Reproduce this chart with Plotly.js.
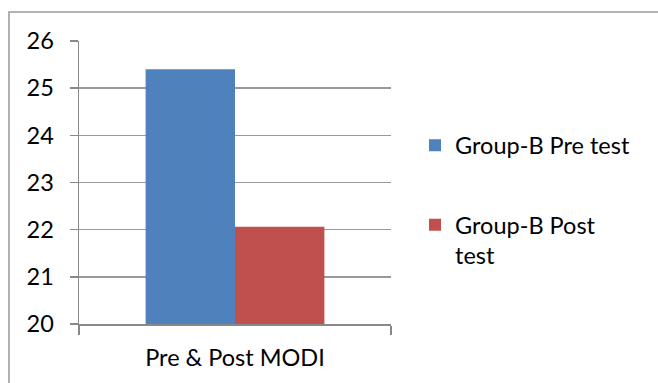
<!DOCTYPE html>
<html>
<head>
<meta charset="utf-8">
<script src="https://cdn.plot.ly/plotly-3.0.1.min.js"></script>
<style>
html,body{margin:0;padding:0;background:#fff;}
#chart{width:658px;height:383px;}
</style>
</head>
<body>
<div id="chart"></div>
<script>
const categories = ['Pre & Post MODI'];
const seriesNames = ['Group-B Pre test', 'Group-B Post<br>test'];
const preValues = [25.40];
const postValues = [22.06];
const yTicks = [20, 21, 22, 23, 24, 25, 26];

const FONT = 'Lato, "Open Sans", sans-serif';
const FS = 23.5;

const traces = [
  {type:'bar', x:categories, y:preValues, name:seriesNames[0], legendgroup:'a',
   marker:{color:'#4F81BD'}, hoverinfo:'none'},
  {type:'bar', x:categories, y:postValues, name:seriesNames[1], legendgroup:'b',
   marker:{color:'#C0504D'}, hoverinfo:'none'}
];

const layout = {
  width:658, height:383,
  margin:{l:79, r:267, t:41, b:59},
  paper_bgcolor:'#fff', plot_bgcolor:'#fff',
  font:{family:FONT, size:FS, color:'#000'},
  barmode:'group', bargap:0.427, bargroupgap:0,
  showlegend:true,
  legend:{x:1.077, xanchor:'left', y:0.709, yanchor:'top', valign:'top',
          tracegroupgap:46, font:{family:FONT, size:FS, color:'#000'},
          bgcolor:'rgba(0,0,0,0)'},
  xaxis:{type:'category', showline:true, linecolor:'#888', linewidth:1.5,
         ticks:'outside', tickson:'boundaries', ticklen:9, tickcolor:'#888', tickwidth:1.5,
         ticklabelstandoff:12, showgrid:false, fixedrange:true},
  yaxis:{range:[20,26], tickvals:yTicks, ticktext:yTicks.map(String), showline:true,
         linecolor:'#888', linewidth:1.5, ticks:'outside', ticklen:8, tickcolor:'#888',
         tickwidth:1.5, ticklabelstandoff:11, showgrid:true, gridcolor:'#999', gridwidth:1.5,
         zeroline:false, fixedrange:true},
  shapes:[
    {type:'path', xref:'paper', yref:'paper',
     path:'M -0.2244 -0.3 L -0.2244 1.1025 L 1.95 1.1025',
     line:{color:'#999', width:1.5}}
  ]
};

Plotly.newPlot('chart', traces, layout, {displayModeBar:false, staticPlot:true});
</script>
</body>
</html>
